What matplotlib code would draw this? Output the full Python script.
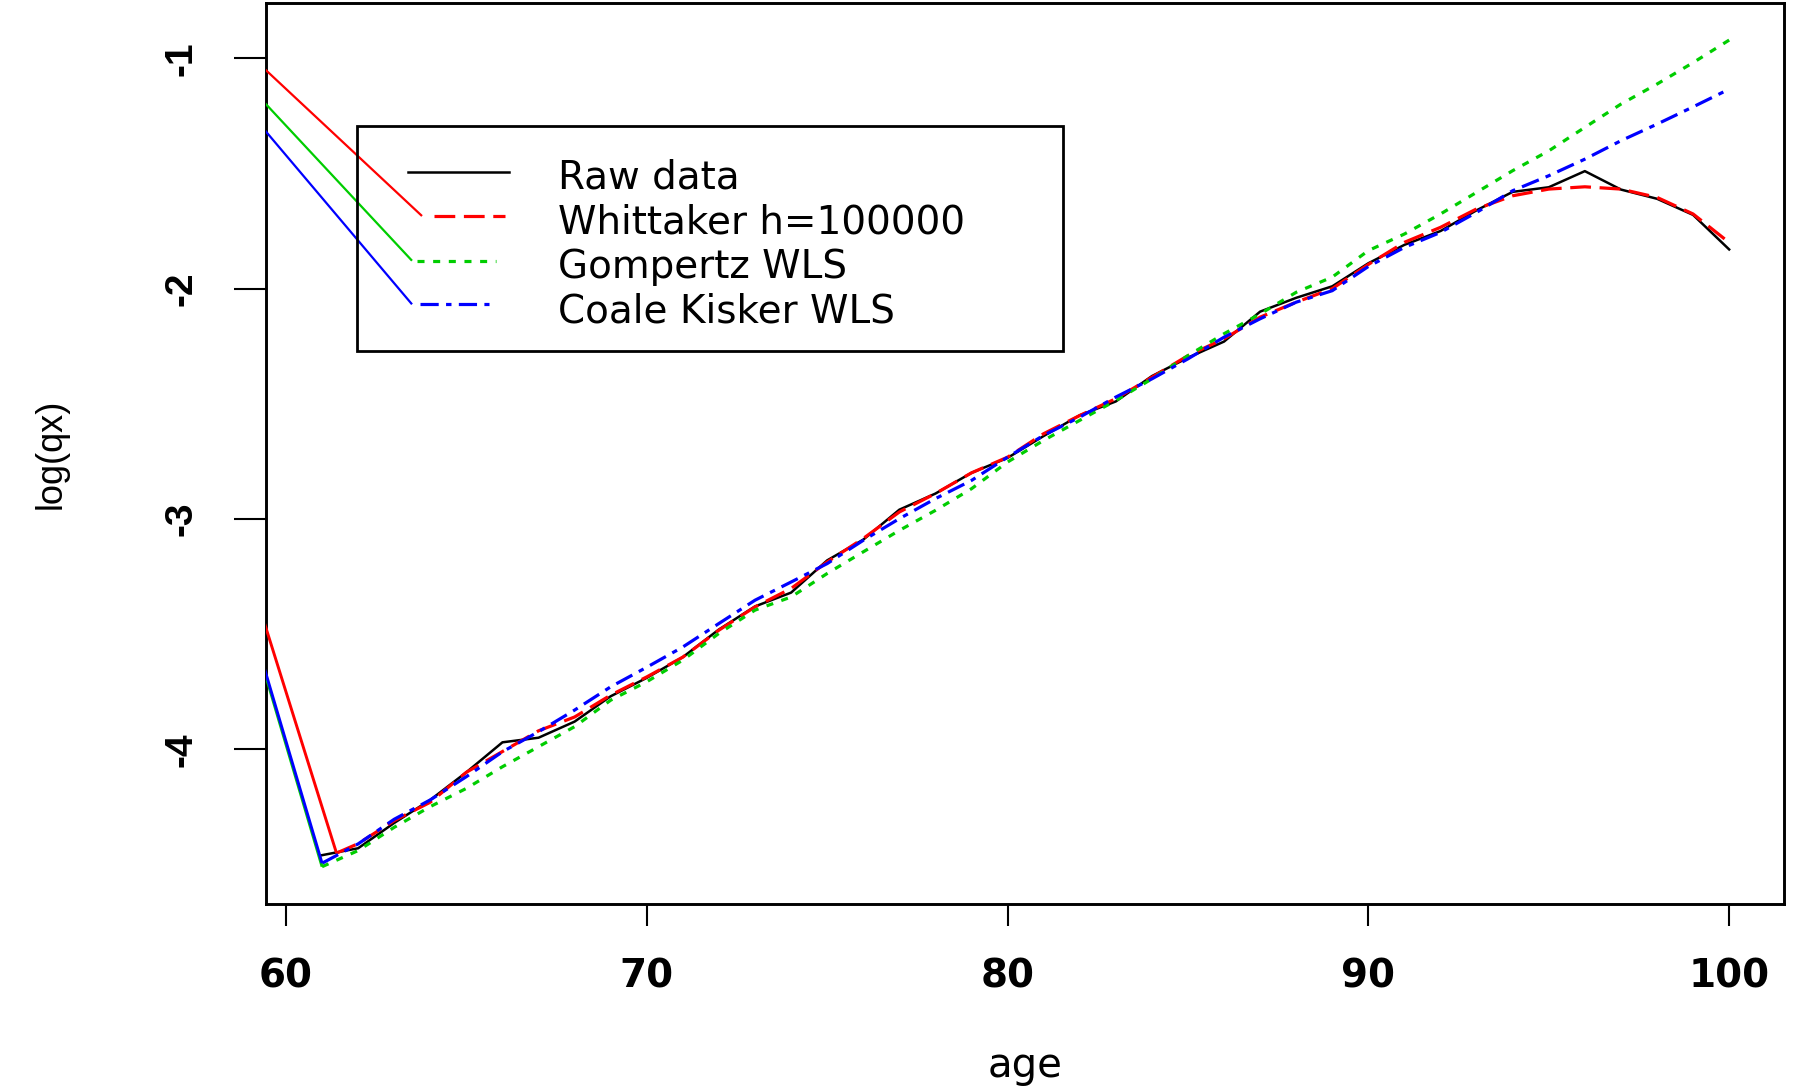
import matplotlib
matplotlib.use("Agg")
import matplotlib.pyplot as plt
from matplotlib.patches import Rectangle

# ---------------- data ----------------
ages = list(range(61, 101))
raw_data = [-4.46, -4.43, -4.32, -4.22, -4.10, -3.97, -3.95, -3.88, -3.77, -3.69,
            -3.60, -3.48, -3.38, -3.32, -3.18, -3.09, -2.96, -2.89, -2.80, -2.735,
            -2.64, -2.55, -2.49, -2.38, -2.30, -2.23, -2.10, -2.04, -1.99, -1.89,
            -1.81, -1.75, -1.66, -1.58, -1.56, -1.49, -1.57, -1.61, -1.68, -1.83]

whittaker_ages = [61.4] + list(range(62, 101))
whittaker = [-4.451, -4.41, -4.31, -4.23, -4.10, -4.01, -3.92, -3.86, -3.765, -3.686,
             -3.60, -3.483, -3.382, -3.302, -3.187, -3.085, -2.97, -2.89, -2.80, -2.732,
             -2.63, -2.551, -2.478, -2.385, -2.291, -2.218, -2.124, -2.059, -2.00, -1.895,
             -1.799, -1.734, -1.654, -1.597, -1.568, -1.558, -1.568, -1.604, -1.676, -1.80]

gompertz = [-4.51, -4.44, -4.339, -4.249, -4.170, -4.076, -3.989, -3.902, -3.787, -3.707,
            -3.613, -3.497, -3.396, -3.339, -3.237, -3.143, -3.050, -2.963, -2.869, -2.753,
            -2.659, -2.572, -2.486, -2.392, -2.291, -2.196, -2.110, -2.016, -1.950, -1.835,
            -1.763, -1.676, -1.582, -1.488, -1.402, -1.300, -1.199, -1.112, -1.019, -0.921]

coale_kisker = [-4.495, -4.411, -4.304, -4.220, -4.119, -4.011, -3.924, -3.830, -3.729, -3.644,
                -3.556, -3.454, -3.353, -3.274, -3.194, -3.093, -2.999, -2.912, -2.833, -2.732,
                -2.637, -2.558, -2.471, -2.392, -2.305, -2.211, -2.131, -2.059, -2.009, -1.904,
                -1.821, -1.756, -1.669, -1.575, -1.510, -1.438, -1.358, -1.286, -1.211, -1.134]

# stray solid strokes in the original all radiate from one point left of the plot
artifact_origin = (52.6, -0.05)

legend_labels = ["Raw data", "Whittaker h=100000", "Gompertz WLS", "Coale Kisker WLS"]
x_ticks = [60, 70, 80, 90, 100]
x_tick_labels = ["60", "70", "80", "90", "100"]
y_ticks = [-1, -2, -3, -4]
y_tick_labels = ["-1", "-2", "-3", "-4"]

# ---------------- figure / axes ----------------
W, H, DPI = 1799, 1088, 100
fig = plt.figure(figsize=(W / DPI, H / DPI), dpi=DPI)
L, R, T, B = 266, 1784, 3, 904
ax = fig.add_axes([L / W, 1 - B / H, (R - L) / W, (B - T) / H])
X0, X1 = 59.446, 101.52
Y0, Y1 = -4.672, -0.760
ax.set_xlim(X0, X1)
ax.set_ylim(Y0, Y1)


def px2x(px):
    return X0 + (px - L) / (R - L) * (X1 - X0)


def px2y(py):
    return Y1 - (py - T) / (B - T) * (Y1 - Y0)


BLACK, RED, GREEN, BLUE = "#000000", "#FF0000", "#00CD00", "#0000FF"
styles = {
    "raw": dict(color=BLACK, lw=1.8, linestyle="-"),
    "wh": dict(color=RED, lw=2.3, dashes=(6.5, 2.7)),
    "go": dict(color=GREEN, lw=2.3, dashes=(2.2, 2.7)),
    "ck": dict(color=BLUE, lw=2.3, dashes=(5.7, 2.3, 1.7, 2.3)),
}

ax.plot(ages, raw_data, **styles["raw"], zorder=3)
ax.plot(whittaker_ages, whittaker, **styles["wh"], zorder=4)
ax.plot(ages, gompertz, **styles["go"], zorder=4)
ax.plot(ages, coale_kisker, **styles["ck"], zorder=4)

# ---------------- legend (drawn in place, like R's legend) ----------------
box_l, box_r, box_t, box_b = 357.4, 1062.6, 125.7, 351.0
ax.add_patch(Rectangle((px2x(box_l), px2y(box_b)), px2x(box_r) - px2x(box_l),
                       px2y(box_t) - px2y(box_b), fill=False, lw=2.0,
                       edgecolor=BLACK, zorder=5))
key_y = [172.3, 216.0, 260.7, 304.3]
text_base = [188.3, 233.3, 277.7, 322.7]
key_x = [(408, 509), (434, 505), (417, 496), (420, 489)]
key_styles = [styles["raw"], styles["wh"], styles["go"], styles["ck"]]
for lab, ky, tb, (k0, k1), st in zip(legend_labels, key_y, text_base, key_x, key_styles):
    ax.plot([px2x(k0), px2x(k1)], [px2y(ky), px2y(ky)], **st, zorder=5)
    ax.text(px2x(558.4), px2y(tb), lab, fontsize=28, family="DejaVu Sans",
            ha="left", va="baseline", zorder=6)

# stray solid strokes: to first point of each fitted series and to its legend key
ends = [
    (RED, (whittaker_ages[0], whittaker[0]), (px2x(422), px2y(key_y[1]))),
    (GREEN, (ages[0], gompertz[0]), (px2x(412), px2y(key_y[2]))),
    (BLUE, (ages[0], coale_kisker[0]), (px2x(412), px2y(key_y[3]))),
]
for col, p_series, p_key in ends:
    ax.plot([artifact_origin[0], p_series[0]], [artifact_origin[1], p_series[1]],
            color=col, lw=2.1, solid_capstyle="butt", zorder=4)
    ax.plot([artifact_origin[0], p_key[0]], [artifact_origin[1], p_key[1]],
            color=col, lw=1.6, solid_capstyle="butt", zorder=4)

# ---------------- axes styling ----------------
for sp in ax.spines.values():
    sp.set_linewidth(2.1)

ax.set_xticks(x_ticks, x_tick_labels, fontsize=28, fontweight="bold",
              family="DejaVu Sans", va="baseline")
ax.set_yticks(y_ticks, y_tick_labels, fontsize=28, fontweight="bold",
              family="Liberation Sans", rotation=90, rotation_mode="anchor",
              ha="center", va="baseline")
ax.tick_params(axis="x", length=22 * 72 / DPI, width=1.5, pad=61 * 72 / DPI)
ax.tick_params(axis="y", length=32 * 72 / DPI, width=1.5, pad=42 * 72 / DPI)

ax.set_xlabel("age", fontsize=29, family="DejaVu Sans", va="baseline")
ax.xaxis.set_label_coords(0.5, (B - 1077) / (B - T))
ax.set_ylabel("log(qx)", fontsize=26, family="Liberation Sans", va="baseline")
ax.yaxis.set_label_coords((61 - L) / (R - L), 0.5)

fig.savefig("out.png", dpi=DPI)
